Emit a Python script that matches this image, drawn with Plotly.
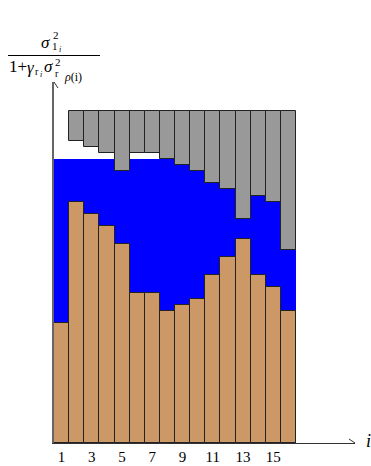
import plotly.graph_objects as go

# water-filling picture: tan = noise level, blue = water, gray = caps from the top
channels = list(range(1, 17))
tan_heights = [12.0, 24.1, 22.9, 21.7, 19.9, 15.0, 15.0, 13.2, 13.8, 14.4, 16.8, 18.6, 20.4, 16.8, 15.6, 13.2]
water_level = 28.4
gray_top = 33.2
gray_bottom = [None, 30.2, 29.6, 29.0, 27.2, 29.0, 29.0, 28.4, 27.8, 27.2, 26.0, 25.4, 22.4, 24.7, 24.1, 19.3]
tick_vals = [1, 3, 5, 7, 9, 11, 13, 15]

W, H = 371, 466
# plot area in pixels: x 54..355, y 82..443
PX0, PX1, PY0, PY1 = 54, 355, 82, 443
L, T = PX0, PY0
R, B = W - PX1, H - PY1
PW, PH = PX1 - PX0, PY1 - PY0
X_MAX = 0.5 + PW / 15.125
Y_MAX = PH / 10.0

SERIF = "Liberation Serif"

fig = go.Figure()

# water
fig.add_trace(go.Bar(
    x=channels, y=[water_level] * len(channels), width=1,
    marker=dict(color="#0000FF", line=dict(width=0)),
    hoverinfo="skip", showlegend=False,
))

# noise bars
fig.add_trace(go.Bar(
    x=channels, y=tan_heights, width=1,
    marker=dict(color="#CC9966", line=dict(color="#222222", width=1)),
    showlegend=False,
))

# gray caps
gx = [c for c, b in zip(channels, gray_bottom) if b is not None]
gb = [b for b in gray_bottom if b is not None]
fig.add_trace(go.Bar(
    x=gx, y=[gray_top - b for b in gb], base=gb, width=1,
    marker=dict(color="#999999", line=dict(color="#222222", width=1)),
    showlegend=False,
))

# arrow heads (open chevrons) at the axis ends
for dx, dy in [(-6, 4), (-6, -4)]:
    fig.add_shape(type="line", xref="x", yref="y", xsizemode="pixel", ysizemode="pixel",
                  xanchor=X_MAX, yanchor=0, x0=0, y0=0, x1=dx, y1=dy,
                  line=dict(color="#333333", width=1))
for dx, dy in [(-4, -6), (4, -6)]:
    fig.add_shape(type="line", xref="x", yref="y", xsizemode="pixel", ysizemode="pixel",
                  xanchor=0.5, yanchor=Y_MAX, x0=0, y0=0, x1=dx, y1=dy,
                  line=dict(color="#333333", width=1))


def px(x, y):
    return (x - PX0) / PW, (PY1 - y) / PH


def label(text, x, y, size, anchor="center"):
    xp, yp = px(x, y)
    fig.add_annotation(text=text, x=xp, y=yp, xref="paper", yref="paper",
                       xanchor=anchor, yanchor="middle", showarrow=False,
                       font=dict(family=SERIF, size=size, color="black"))


# y axis label: sigma^2_{1_i} / (1 + gamma_{r_i} sigma^2_{r_rho(i)})
label("<i>σ</i>", 45, 43, 17)
label("2", 55.5, 35, 11)
label("1", 55, 46, 11)
label("<i>i</i>", 59.5, 49.5, 8)
x0, y0 = px(8, 55.5)
x1, _ = px(100, 55.5)
fig.add_shape(type="line", xref="paper", yref="paper", x0=x0, x1=x1, y0=y0, y1=y0,
              line=dict(color="black", width=1))
label("1+", 18, 67, 17)
label("<i>γ</i>", 31, 68, 17)
label("r", 37, 71, 10)
label("<i>i</i>", 41, 74, 8)
label("<i>σ</i>", 48.5, 67, 17)
label("2", 57.5, 62, 11)
label("r", 57, 73, 10)
label("<i>ρ</i>(i)", 61.5, 76.5, 12, anchor="left")

# x axis label
label("<i>i</i>", 368, 441, 18)

fig.update_layout(
    width=W, height=H,
    margin=dict(l=L, r=R, t=T, b=B, autoexpand=False),
    barmode="overlay", bargap=0,
    plot_bgcolor="white", paper_bgcolor="white",
    xaxis=dict(range=[0.5, X_MAX], tickvals=tick_vals, ticktext=[str(v) for v in tick_vals],
               showgrid=False, zeroline=False, showline=True, linecolor="#333333", linewidth=1,
               ticks="", automargin=False, tickfont=dict(family=SERIF, size=15, color="black")),
    yaxis=dict(range=[0, Y_MAX], showgrid=False, zeroline=False, showline=True, automargin=False,
               linecolor="#666666", linewidth=1.5, showticklabels=False, ticks=""),
)

# drop the default page margin so the figure sits at the window's corner
fig.write_html("out.html", config={"displayModeBar": False},
               post_script="document.body.style.margin='0';document.body.style.overflow='hidden';")
